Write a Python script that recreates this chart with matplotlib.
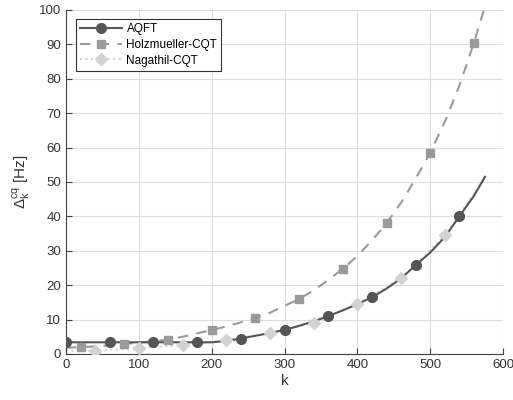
import numpy as np
import matplotlib.pyplot as plt

plt.rcParams['font.family'] = ['Liberation Sans', 'DejaVu Sans']

# curve values
k_aqft = [0, 100, 200, 220, 240, 260, 280, 300, 320, 340, 360, 380, 400, 420,
          440, 460, 480, 500, 520, 540, 560, 575]
d_aqft = [3.4, 3.4, 3.4, 3.8, 4.5, 5.3, 6.1, 7.0, 8.2, 9.5, 11.0, 12.7, 14.5, 16.5,
          19.0, 22.0, 25.8, 29.5, 34.0, 40.0, 46.0, 51.5]
k_holz = [0, 20, 40, 60, 80, 100, 120, 140, 160, 180, 200, 220, 240, 260, 280, 300,
          320, 340, 360, 380, 400, 420, 440, 460, 480, 500, 520, 540, 560, 575]
d_holz = [1.8, 2.0, 2.2, 2.5, 2.9, 3.3, 3.7, 4.2, 5.0, 6.0, 7.0, 8.0, 9.2, 10.5, 12.0,
          14.0, 16.0, 18.5, 21.5, 24.8, 28.5, 33.0, 38.0, 44.0, 51.0, 58.5, 67.5,
          78.0, 90.5, 101.0]
k_naga = [0, 40, 100, 160, 220, 280, 340, 400, 460, 520, 575]
d_naga = [0.9, 1.0, 1.7, 2.6, 4.0, 6.0, 9.0, 14.5, 22.0, 34.5, 51.0]

# marker positions
mk_aqft = [0, 60, 120, 180, 240, 300, 360, 420, 480, 540]
mv_aqft = [3.5, 3.5, 3.5, 3.5, 4.5, 7.0, 11.0, 16.5, 25.8, 40.0]
mk_holz = [20, 80, 140, 200, 260, 320, 380, 440, 500, 560]
mv_holz = [2.0, 2.9, 4.2, 7.0, 10.5, 16.0, 24.8, 38.0, 58.5, 90.5]
mk_naga = [40, 100, 160, 220, 280, 340, 400, 460, 520]
mv_naga = [1.0, 1.7, 2.6, 4.0, 6.0, 9.0, 14.5, 22.0, 34.5]

c_aqft = '#555555'
c_holz = '#9a9a9a'
c_naga = '#d2d2d2'

fig = plt.figure(figsize=(5.13, 4.0), dpi=100)
ax = fig.add_axes([0.1287, 0.115, 0.852, 0.86])

ax.plot(k_naga, d_naga, ':', color=c_naga, lw=1.5, zorder=2)
ax.plot(k_aqft, d_aqft, '-', color=c_aqft, lw=1.5, zorder=3)
ax.plot(k_holz, d_holz, '--', color=c_holz, lw=1.5, dashes=(5, 4), zorder=2)
ax.plot(mk_naga, mv_naga, 'D', color=c_naga, ms=6, zorder=4)
ax.plot(mk_aqft, mv_aqft, 'o', color=c_aqft, ms=7, zorder=5)
ax.plot(mk_holz, mv_holz, 's', color=c_holz, ms=6, zorder=4)

h1, = ax.plot([], [], '-o', color=c_aqft, lw=1.5, ms=7)
h2, = ax.plot([], [], '--s', color=c_holz, lw=1.5, ms=6, dashes=(5, 4))
h3, = ax.plot([], [], ':D', color=c_naga, lw=1.5, ms=6)
leg = ax.legend([h1, h2, h3], ['AQFT', 'Holzmueller-CQT', 'Nagathil-CQT'],
                loc='upper left', bbox_to_anchor=(0.01, 0.99), fontsize=8.5,
                fancybox=False, framealpha=1, edgecolor='#333333',
                handlelength=3.5, borderpad=0.35, labelspacing=0.3, handletextpad=0.4)
leg.get_frame().set_linewidth(0.8)

ax.set_xlim(0, 600)
ax.set_ylim(0, 100)
ax.set_xticks(range(0, 601, 100))
ax.set_yticks(range(0, 101, 10))
ax.grid(True, color='#dddddd', lw=0.8)
ax.set_axisbelow(True)
for s in ['top', 'right']:
    ax.spines[s].set_visible(False)
for s in ['left', 'bottom']:
    ax.spines[s].set_color('#404040')
ax.tick_params(direction='in', colors='#404040', labelsize=9.5, labelcolor='#333333', length=4)
ax.set_xlabel('k', fontsize=11, color='#333333', labelpad=2)
ax.set_ylabel(r'$\mathregular{\Delta_k^{cq}}$ [Hz]', fontsize=11, color='#333333', labelpad=4)

fig.savefig('out.png', dpi=100)
